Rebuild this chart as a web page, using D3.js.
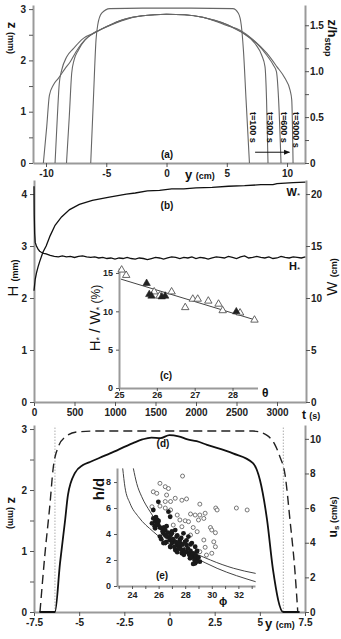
<!DOCTYPE html>
<html>
<head>
<meta charset="utf-8">
<script src="https://cdn.jsdelivr.net/npm/d3@7"></script>
<style>
body { margin: 0; background: #fff; }
text { font-family: "Liberation Sans", Arial, sans-serif; fill: #111; }
.axis path { stroke: #9a9a9a; stroke-width: 2; }
.axis line { stroke: #555; stroke-width: 1; }
.axis text { font-size: 10px; font-weight: bold; fill: #222; }
.small text { font-size: 9px; }
</style>
</head>
<body>
<svg id="fig" width="341" height="639"></svg>
<script>
// ----- (a) height profiles z(y), y in cm, z in mm
var hStop = 1.79;
var prof100 = [[-6.29,0],[-6.07,1.23],[-5.85,2.4],[-5.71,2.69],[-5.38,2.92],[-4.7,3.01],[-2,3.02],[0,3.02],[2,3.02],[5.5,3.01],[5.96,2.92],[6.2,2.69],[6.38,2.2],[6.6,1.23],[6.88,0]];
var prof300 = [[-8.3,0],[-8.07,0.9],[-7.87,1.75],[-7.68,2.0],[-7.32,2.2],[-6.76,2.4],[-6.07,2.53],[-5.5,2.6],[-4.5,2.71],[-3.5,2.8],[-2,2.87],[0,2.9],[1.5,2.89],[3,2.84],[4,2.78],[5,2.7],[5.8,2.6],[6.37,2.53],[7.34,2.33],[7.9,2.1],[8.17,1.88],[8.3,1.23],[8.42,0]];
var prof600 = [[-9.25,0],[-9.06,0.9],[-8.9,1.55],[-8.7,1.81],[-8.28,2.07],[-7.73,2.23],[-6.9,2.43],[-6.07,2.53],[-5.5,2.6],[-4.5,2.71],[-3.5,2.8],[-2,2.87],[0,2.9],[1.5,2.89],[3,2.84],[4,2.78],[5,2.7],[5.8,2.61],[6.37,2.53],[7.49,2.33],[8.32,2.1],[8.86,1.91],[9.12,1.78],[9.3,1.23],[9.5,0]];
var prof3000 = [[-10.22,0],[-9.94,0.71],[-9.72,1.32],[-9.39,1.52],[-8.98,1.65],[-8.42,1.84],[-8.0,1.97],[-7.51,2.17],[-7.04,2.33],[-6.49,2.46],[-5.79,2.56],[-4.5,2.7],[-3.5,2.79],[-2,2.87],[0,2.9],[1.5,2.89],[3,2.84],[4,2.77],[5,2.68],[6.1,2.59],[7.2,2.4],[8.32,2.14],[9.15,1.88],[9.83,1.65],[10.25,1.42],[10.39,1.23],[10.5,0]];
var profLabels = ["t=100 s", "t=300 s", "t=600 s", "t=3000 s"];
var arrowY = [7.35, 10.2], arrowZ = 0.21;

// ----- (b) W*(t) in cm and H*(t) in mm
var wSeries = [[0,10.7],[15,11.8],[30,12.4],[50,13.0],[70,13.5],[110,14.4],[150,15.0],[200,16.0],[260,17.0],[340,17.8],[440,18.5],[560,19.0],[720,19.4],[930,19.7],[1140,20.0],[1250,20.1],[1400,20.3],[1550,20.35],[1700,20.5],[1850,20.5],[2000,20.6],[2200,20.65],[2400,20.75],[2600,20.8],[2800,20.9],[2950,20.9],[3000,21.0],[3100,21.05],[3200,21.1],[3350,21.15]];
var hSeries = [[0,4.15],[3,3.6],[8,3.25],[15,3.07],[30,3.0],[50,2.94],[70,2.9],[90,2.88],[120,2.86],[150,2.85],[200,2.82],
  [250,2.80],[300,2.79],[350,2.81],[400,2.79],[450,2.80],[500,2.78],[550,2.80],[600,2.81],[650,2.79],[700,2.78],
  [750,2.79],[800,2.77],[850,2.78],[900,2.76],[950,2.77],[1000,2.75],[1050,2.77],[1100,2.76],[1150,2.78],[1200,2.76],
  [1250,2.75],[1300,2.77],[1350,2.76],[1400,2.74],[1450,2.76],[1500,2.78],[1550,2.77],[1600,2.75],[1650,2.77],[1700,2.79],
  [1750,2.78],[1800,2.76],[1850,2.78],[1900,2.77],[1950,2.79],[2000,2.76],[2050,2.78],[2100,2.77],[2150,2.75],[2200,2.77],
  [2250,2.79],[2300,2.78],[2350,2.77],[2400,2.80],[2450,2.78],[2500,2.76],[2550,2.79],[2600,2.81],[2650,2.77],[2700,2.78],
  [2750,2.80],[2800,2.78],[2850,2.77],[2900,2.79],[2950,2.76],[3000,2.77],[3050,2.80],[3100,2.78],[3150,2.77],[3200,2.79],
  [3250,2.78],[3300,2.77],[3350,2.79]];

// ----- (c) H*/W* (%) vs theta
var cOpen = [[25.07,15.4],[25.19,14.7],[25.93,12.55],[26.07,12.0],[26.39,12.55],[26.75,10.5],[26.95,11.6],[27.08,11.6],[27.36,11.35],[27.63,10.95],[27.74,10.1],[28.2,9.8],[28.58,8.87]];
var cFilled = [[25.73,13.65],[25.8,12.2],[25.86,12.0],[26.13,11.9],[26.22,12.0],[28.1,9.95]];
var cFit = [[25.05,14.2],[28.65,8.8]];

// ----- (d) z(y) in mm and us(y) in cm/s
var dZ = [[-7.2,0],[-6.34,0],[-6.06,0.8],[-5.78,1.5],[-5.62,1.92],[-5.23,2.28],[-4.79,2.41],[-4.4,2.46],[-3.29,2.6],[-2.02,2.77],[-1.5,2.83],[-1.0,2.86],[-0.5,2.85],[0,2.9],[0.5,2.88],[1.0,2.83],[1.5,2.8],[2.08,2.74],[3.51,2.6],[4.62,2.44],[5.01,2.16],[5.4,1.51],[5.73,0.69],[6.29,0],[7.2,0]];
var dUs = [[-7.17,0],[-6.89,3.4],[-6.61,6.3],[-6.45,8.2],[-6.17,9.5],[-5.78,10.1],[-5.12,10.4],[-4,10.45],[0,10.45],[4.62,10.45],[5.4,10.2],[5.84,9.65],[6.1,9.0],[6.4,7.9],[6.67,5.3],[6.94,2.4],[7.1,0]];
var dEdges = [-6.34, 6.3];

// ----- (e) h/d vs phi
var eUpper = [[24.1,9.05],[24.35,7.9],[24.73,6.87],[25.36,5.72],[26.36,4.31],[27.87,3.02],[29.9,2.0],[31.65,1.36],[33.3,0.97]];
var eLower = [[23.3,9.05],[23.47,7.6],[23.85,6.36],[24.48,5.33],[25.6,4.18],[27.1,3.02],[28.6,2.25],[30.4,1.36],[33.3,0.33]];
var eOpen = [[27.8,8.46],[26.1,7.9],[26.5,7.64],[26.74,7.5],[25.6,7.25],[25.86,7.13],[26.6,7.0],[27.25,6.75],[27.75,6.6],[28.1,6.7],[26.5,6.5],[26.9,6.5],[29.1,6.3],[25.5,6.1],[26.1,6.15],[26.5,6.0],[26.9,5.85],[30.3,6.0],[30.4,5.85],[31.85,6.0],[32.66,5.85],[27.4,5.46],[28.4,5.54],[28.75,5.46],[29.1,5.46],[29.5,5.6],[27.6,5.08],[28.0,5.02],[28.25,4.95],[29.0,5.08],[29.4,5.2],[27.1,4.69],[27.75,4.56],[28.6,4.5],[29.9,4.5],[30.0,4.31],[30.27,4.1],[28.9,4.18],[28.4,3.92],[29.4,3.54],[30.15,3.4],[30.27,3.02],[29.5,2.98],[30.0,2.52],[29.6,2.38],[29.1,2.64]];
var eFilled = [[25.6,5.2],[25.74,4.95],[25.5,4.82],[25.9,5.08],[25.98,4.69],[25.74,4.44],[26.24,4.44],[26.36,4.05],[26.6,3.8],[26.87,3.54],[27.1,3.4],[26.6,3.4],[27.36,3.15],[27.6,3.02],[27.87,2.77],[28.1,2.64],[28.36,2.52],[28.6,2.25],[28.87,2.0],[28.75,1.75],[29.1,1.87],[28.36,2.13],[27.36,3.8],[27.6,3.54],[27.98,3.4],[27.0,4.05],[26.5,4.3],[27.25,4.3],[27.87,4.05],[28.24,3.8],[28.5,3.3],[28.75,3.02],[28.87,2.64],[28.1,3.15],[26.87,3.02],[27.25,2.77],[27.75,2.52],[26.1,3.8],[26.36,3.3],[25.6,5.85],[26.74,5.72],[26.87,5.33],[25.98,6.48],
  [25.7,4.6],[25.9,4.8],[26.0,5.0],[25.8,5.3],[26.1,4.5],[26.3,4.2],[26.4,4.5],[26.5,3.9],[26.7,4.1],[26.8,3.7],[26.9,3.9],[27.0,3.3],[27.1,3.6],[27.2,3.0],[27.3,3.4],[27.5,2.9],[27.6,3.3],[27.7,2.8],[27.8,3.2],[28.0,2.6],[28.2,2.9],[28.3,2.4],[28.4,2.7],[28.5,2.2],[28.6,2.5],[28.7,2.0],[28.8,2.3],[28.9,1.9],[29.0,2.2],[28.6,1.7],[26.2,3.6],[26.5,3.3],[26.9,3.0],[27.4,2.6],[27.9,2.4],[26.6,4.6],[27.0,4.2],[27.4,3.9],[27.7,3.7],[28.1,3.5],[28.4,3.2],[28.9,2.7]];

var svg = d3.select("#fig");
svg.append("rect").attr("width", 341).attr("height", 639).attr("fill", "#fff");

svg.append("defs").append("marker")
    .attr("id", "arr").attr("viewBox", "0 0 10 10").attr("refX", 9).attr("refY", 5)
    .attr("markerWidth", 6).attr("markerHeight", 6).attr("orient", "auto")
    .append("path").attr("d", "M0,1L10,5L0,9Z").attr("fill", "#111");

function addAxis(gen, tx, ty, cls) {
    return svg.append("g").attr("class", "axis " + (cls || ""))
        .attr("transform", "translate(" + tx + "," + ty + ")")
        .call(gen);
}
function halfFmt(d) { return d % 1 === 0 ? String(d) : ""; }
function plain(d) { return String(d); }

// rotated label helper: parts = [[text, size, weight, dy], ...]
function vlabel(x, y, angle, parts) {
    var t = svg.append("text")
        .attr("transform", "translate(" + x + "," + y + ") rotate(" + angle + ")")
        .attr("text-anchor", "middle");
    parts.forEach(function (p) {
        t.append("tspan").text(p[0]).style("font-size", p[1] + "px")
            .style("font-weight", p[2]).attr("dy", p[3] || 0);
    });
    return t;
}

// ================= panel (a) =================
var xA = d3.scaleLinear().domain([-11.08, 11.49]).range([33, 305]);
var zA = d3.scaleLinear().domain([0, 3.08]).range([163, 5]);
var rA = d3.scaleLinear().domain([0, 3.08 / hStop]).range([163, 5]);

addAxis(d3.axisBottom(xA).tickValues([-10, -5, 0, 5, 10]).tickFormat(plain).tickSize(4).tickSizeOuter(0), 0, 163);
addAxis(d3.axisLeft(zA).tickValues([0, 0.5, 1, 1.5, 2, 2.5, 3]).tickFormat(halfFmt).tickSize(4).tickSizeOuter(0), 33, 0);
addAxis(d3.axisRight(rA).tickValues([0, 0.25, 0.5, 0.75, 1, 1.25, 1.5])
    .tickFormat(function (d) { return d === 0 ? "0" : (d * 2) % 1 === 0 ? d.toFixed(1) : ""; })
    .tickSize(4).tickPadding(1).tickSizeOuter(0), 305, 0);

var lineA = d3.line().x(function (d) { return xA(d[0]); }).y(function (d) { return zA(d[1]); }).curve(d3.curveMonotoneX);
[prof100, prof300, prof600, prof3000].forEach(function (p) {
    svg.append("path").datum(p).attr("d", lineA)
        .attr("fill", "none").attr("stroke", "#666").attr("stroke-width", 1.1);
});

// time labels next to right feet
var labX = [250, 267, 281, 293];
profLabels.forEach(function (s, i) {
    svg.append("text").attr("transform", "translate(" + labX[i] + ",112) rotate(90)")
        .style("font-size", "9px").style("font-weight", "bold").text(s);
});
svg.append("line").attr("x1", xA(arrowY[0])).attr("x2", xA(arrowY[1]))
    .attr("y1", zA(arrowZ)).attr("y2", zA(arrowZ))
    .attr("stroke", "#111").attr("stroke-width", 1).attr("marker-end", "url(#arr)");

svg.append("text").attr("x", 167).attr("y", 158).attr("text-anchor", "middle")
    .style("font-size", "10px").style("font-weight", "bold").text("(a)");
var ya = svg.append("text").attr("x", 185).attr("y", 179);
ya.append("tspan").text("y ").style("font-size", "13px").style("font-weight", "bold");
ya.append("tspan").text("(cm)").style("font-size", "9px").style("font-weight", "bold");
vlabel(8, 38, 90, [["z ", 13, "bold"], ["(mm)", 9, "bold"]]);
vlabel(328, 38, 90, [["z/h", 13, "bold"], ["stop", 9, "bold", 3]]);

// ================= panel (b) =================
var tB = d3.scaleLinear().domain([0, 3358]).range([34, 306]);
var hB = d3.scaleLinear().domain([0, 4.27]).range([402, 180]);
var wB = d3.scaleLinear().domain([0, 21.35]).range([402, 180]);

addAxis(d3.axisBottom(tB).tickValues([0, 500, 1000, 1500, 2000, 2500, 3000]).tickFormat(plain).tickSize(4).tickSizeOuter(0), 0, 402);
addAxis(d3.axisLeft(hB).tickValues([0, 1, 2, 3, 4]).tickFormat(plain).tickSize(4).tickSizeOuter(0), 34, 0);
addAxis(d3.axisRight(wB).tickValues([0, 5, 10, 15, 20]).tickFormat(plain).tickSize(4).tickPadding(1).tickSizeOuter(0), 306, 0);

svg.append("path").datum(wSeries)
    .attr("d", d3.line().x(function (d) { return tB(d[0]); }).y(function (d) { return wB(d[1]); }))
    .attr("fill", "none").attr("stroke", "#111").attr("stroke-width", 1.3);
svg.append("path").datum(hSeries)
    .attr("d", d3.line().x(function (d) { return tB(d[0]); }).y(function (d) { return hB(d[1]); }))
    .attr("fill", "none").attr("stroke", "#111").attr("stroke-width", 1.3);

var wl = svg.append("text").attr("x", 300).attr("y", 196).attr("text-anchor", "end");
wl.append("tspan").text("W").style("font-size", "11px").style("font-weight", "bold");
wl.append("tspan").text("*").style("font-size", "8px").attr("dy", 2);
var hl = svg.append("text").attr("x", 300).attr("y", 270).attr("text-anchor", "end");
hl.append("tspan").text("H").style("font-size", "11px").style("font-weight", "bold");
hl.append("tspan").text("*").style("font-size", "8px").attr("dy", 2);

var tl = svg.append("text").attr("x", 302).attr("y", 419);
tl.append("tspan").text("t ").style("font-size", "12px").style("font-weight", "bold");
tl.append("tspan").text("(s)").style("font-size", "9px").style("font-weight", "bold");
svg.append("text").attr("x", 167).attr("y", 209).attr("text-anchor", "middle")
    .style("font-size", "10px").style("font-weight", "bold").text("(b)");
vlabel(18, 278, -90, [["H ", 15, "normal"], ["(mm)", 9, "bold"]]);
vlabel(337, 277, -90, [["W ", 15, "normal"], ["(cm)", 9, "bold"]]);

// ---- inset (c)
var thC = d3.scaleLinear().domain([25, 28.66]).range([119, 257.5]);
var pC = d3.scaleLinear().domain([0, 15.65]).range([388, 268]);
addAxis(d3.axisBottom(thC).tickValues([25, 26, 27, 28]).tickFormat(plain).tickSize(3).tickPadding(1).tickSizeOuter(0), 0, 388, "small");
addAxis(d3.axisLeft(pC).tickValues([0, 5, 10, 15]).tickFormat(plain).tickSize(3).tickSizeOuter(0), 119, 0, "small");

svg.append("path").datum(cFit)
    .attr("d", d3.line().x(function (d) { return thC(d[0]); }).y(function (d) { return pC(d[1]); }))
    .attr("stroke", "#444").attr("stroke-width", 1);
var tri = d3.symbol().type(d3.symbolTriangle).size(24);
svg.selectAll(".cO").data(cOpen).enter().append("path")
    .attr("transform", function (d) { return "translate(" + thC(d[0]) + "," + pC(d[1]) + ")"; })
    .attr("d", tri).attr("fill", "#fff").attr("stroke", "#555").attr("stroke-width", 0.9);
svg.selectAll(".cF").data(cFilled).enter().append("path")
    .attr("transform", function (d) { return "translate(" + thC(d[0]) + "," + pC(d[1]) + ")"; })
    .attr("d", tri).attr("fill", "#222").attr("stroke", "#222").attr("stroke-width", 0.6);

svg.append("text").attr("x", 262).attr("y", 397).style("font-size", "12px").style("font-weight", "bold").text("θ");
svg.append("text").attr("x", 166).attr("y", 379).attr("text-anchor", "middle")
    .style("font-size", "10px").style("font-weight", "bold").text("(c)");
vlabel(100, 318, -90, [["H", 15, "normal"], ["*", 9, "normal", 2], [" / W", 15, "normal", -2], ["*", 9, "normal", 2], [" (%)", 12, "normal", -2]]);

// ================= panel (d) =================
var yD = d3.scaleLinear().domain([-7.5, 7.5]).range([34, 305]);
var zD = d3.scaleLinear().domain([0, 3.066]).range([612, 425]);
var uD = d3.scaleLinear().domain([0, 10.8]).range([612, 425]);

addAxis(d3.axisBottom(yD).tickValues([-7.5, -5, -2.5, 0, 2.5, 5, 7.5]).tickFormat(plain).tickSize(4).tickSizeOuter(0), 0, 612);
addAxis(d3.axisLeft(zD).tickValues([0, 0.5, 1, 1.5, 2, 2.5, 3]).tickFormat(halfFmt).tickSize(4).tickSizeOuter(0), 34, 0);
addAxis(d3.axisRight(uD).tickValues([0, 2, 4, 6, 8, 10]).tickFormat(plain).tickSize(4).tickPadding(1).tickSizeOuter(0), 305, 0);

dEdges.forEach(function (e) {
    svg.append("line").attr("x1", yD(e)).attr("x2", yD(e)).attr("y1", zD(0)).attr("y2", zD(3.05))
        .attr("stroke", "#999").attr("stroke-width", 0.8).attr("stroke-dasharray", "1.5,1.5");
});
svg.append("path").datum(dUs)
    .attr("d", d3.line().x(function (d) { return yD(d[0]); }).y(function (d) { return uD(d[1]); }).curve(d3.curveMonotoneX))
    .attr("fill", "none").attr("stroke", "#222").attr("stroke-width", 1.4).attr("stroke-dasharray", "9,5");
svg.append("path").datum(dZ)
    .attr("d", d3.line().x(function (d) { return yD(d[0]); }).y(function (d) { return zD(d[1]); }).curve(d3.curveMonotoneX))
    .attr("fill", "none").attr("stroke", "#111").attr("stroke-width", 1.8);

svg.append("text").attr("x", 163).attr("y", 447).attr("text-anchor", "middle")
    .style("font-size", "10px").style("font-weight", "bold").text("(d)");
var yd = svg.append("text").attr("x", 265).attr("y", 628);
yd.append("tspan").text("y ").style("font-size", "13px").style("font-weight", "bold");
yd.append("tspan").text("(cm)").style("font-size", "9px").style("font-weight", "bold");
vlabel(8, 513, 90, [["z ", 13, "bold"], ["(mm)", 9, "bold"]]);
vlabel(337, 517, -90, [["u", 12, "bold"], ["s", 8, "bold", 2], [" (cm/s)", 9, "bold", -2]]);

// ---- inset (e)
var phE = d3.scaleLinear().domain([22.87, 33.25]).range([117, 255]);
var hdE = d3.scaleLinear().domain([0, 9.08]).range([586, 468]);
addAxis(d3.axisBottom(phE).tickValues([23, 24, 25, 26, 27, 28, 29, 30, 31, 32, 33])
    .tickFormat(function (d) { return d % 2 === 0 && d < 33 ? String(d) : ""; })
    .tickSize(3).tickSizeOuter(0), 0, 586, "small");
addAxis(d3.axisLeft(hdE).tickValues([0, 2, 4, 6, 8]).tickFormat(plain).tickSize(3).tickSizeOuter(0), 117, 0, "small");

var lineE = d3.line().x(function (d) { return phE(d[0]); }).y(function (d) { return hdE(d[1]); }).curve(d3.curveMonotoneX);
[eUpper, eLower].forEach(function (c) {
    svg.append("path").datum(c).attr("d", lineE).attr("fill", "none").attr("stroke", "#444").attr("stroke-width", 1);
});
svg.selectAll(".eO").data(eOpen).enter().append("circle")
    .attr("cx", function (d) { return phE(d[0]); }).attr("cy", function (d) { return hdE(d[1]); })
    .attr("r", 2).attr("fill", "#fff").attr("stroke", "#555").attr("stroke-width", 0.8);
svg.selectAll(".eF").data(eFilled).enter().append("circle")
    .attr("cx", function (d) { return phE(d[0]); }).attr("cy", function (d) { return hdE(d[1]); })
    .attr("r", 2.4).attr("fill", "#1a1a1a");

svg.append("text").attr("x", 162).attr("y", 579).attr("text-anchor", "middle")
    .style("font-size", "10px").style("font-weight", "bold").text("(e)");
svg.append("text").attr("x", 219).attr("y", 605).style("font-size", "11px").style("font-weight", "bold").text("ϕ");
vlabel(104, 489, -90, [["h/d", 15, "bold"]]);
</script>
</body>
</html>
